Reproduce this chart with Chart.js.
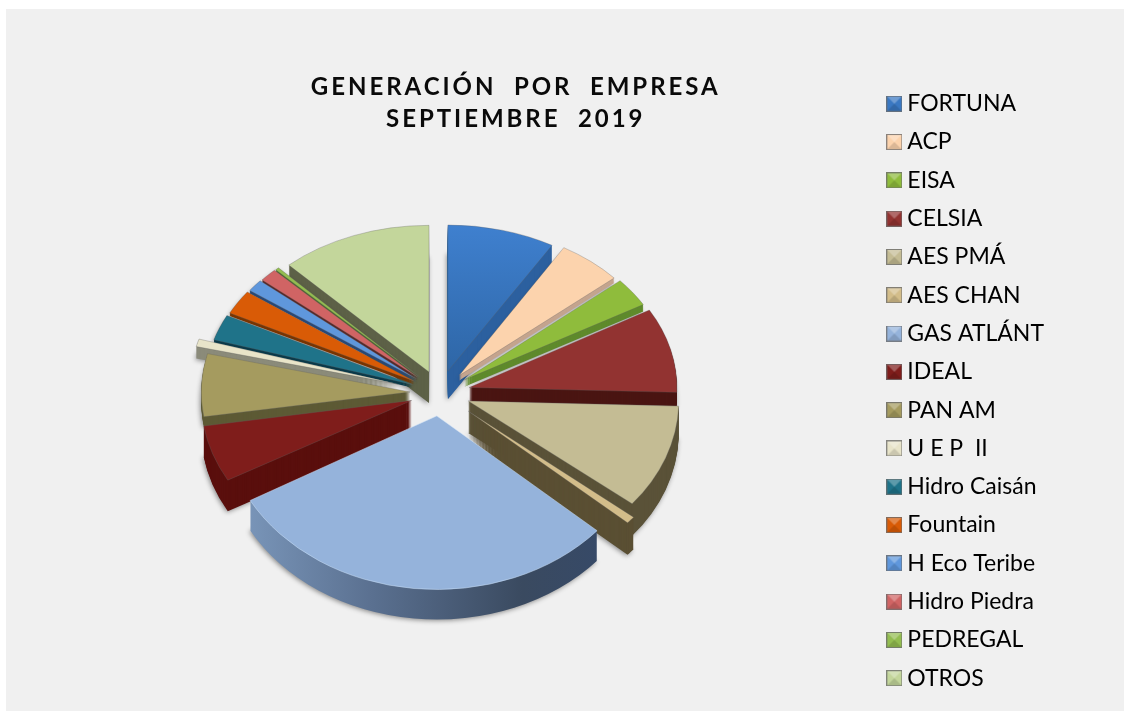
<!DOCTYPE html>
<html><head><meta charset="utf-8">
<style>html,body{margin:0;padding:0;background:#fff;overflow:hidden}
#wrap{position:relative;width:1124px;height:711px}canvas{display:block}</style>
<script src="https://cdn.jsdelivr.net/npm/chart.js@4"></script></head>
<body><div id="wrap"><canvas id="c" width="1124" height="711"></canvas></div>
<script>
const categories=['FORTUNA','ACP','EISA','CELSIA','AES PMÁ','AES CHAN','GAS ATLÁNT','IDEAL','PAN AM','U E P  II','Hidro Caisán','Fountain','H Eco Teribe','Hidro Piedra','PEDREGAL','OTROS'];
const shares=[8.5,5.1,3.1,8.8,10.3,0.7,30.4,5.6,6.4,0.8,2.7,2.6,1.3,1.4,0.3,12.0];
const topColors=['#3a78c2','#fcd3ad','#8fbc3c','#923331','#c4bc94','#d3bd8a','#95b3db','#7f1d1b','#a59b5f','#e8e4c9','#1f7389','#d95b06','#5f97dc','#d06464','#93bd50','#c3d69b'];
const wallColors=['#2c609f','#c4a48e','#5f8a2c','#4a1512','#5a5238','#5a4f33','#3f5273','#5a0f0d','#5d5a35','#8b8b7a','#0a3a4a','#7a3500','#2a4a78','#5a2a2a','#4f6a30','#5d6147'];
const wallDepths=[28,5,7,14,32,32,30,31,10,12,3,3,3,3,2,31];
const sliceExplode=[30,30,30,30,30,37,30,30,30,44,30,30,30,30,30,30];
const titleLines=['GENERACIÓN  POR  EMPRESA','SEPTIEMBRE  2019'];

const VIEW={cx:440,cy:393,radius:209,squash:0.76,persp:0.068};

function legendIcon(color){
  const n=16,c=document.createElement('canvas');c.width=n;c.height=n;
  const x=c.getContext('2d');
  x.fillStyle=color;x.fillRect(0,0,n,n);
  x.fillStyle='rgba(255,255,255,.28)';x.beginPath();x.moveTo(1,1);x.lineTo(15,1);x.lineTo(8,8);x.fill();
  x.fillStyle='rgba(0,0,0,.13)';x.beginPath();x.moveTo(1,15);x.lineTo(15,15);x.lineTo(8,8);x.fill();
  x.strokeStyle='rgba(110,110,110,.8)';x.lineWidth=1;x.strokeRect(.5,.5,n-1,n-1);
  return c;
}
const panel={id:'panel',beforeDraw(ch){
  const x=ch.ctx;x.save();x.fillStyle='#f0f0f0';x.fillRect(6,9,1118,702);x.restore();
  const t=ch.titleBlock;
  if(t&&!t._spaced){t._spaced=true;const d=t.draw;t.draw=function(){x.letterSpacing='2.95px';d.call(t);x.letterSpacing='0px';};}
}};
const pie3d={id:'pie3d',beforeDatasetsDraw(ch){
  const x=ch.ctx,meta=ch.getDatasetMeta(0),V=VIEW;
  const order=meta.data.map((el,i)=>({el,i,m:(el.startAngle+el.endAngle)/2})).sort((a,b)=>Math.sin(a.m)-Math.sin(b.m));
  const p=Y=>1/(1-V.persp*Y);
  for(const {el,i,m} of order){
    const ux=Math.cos(m),uy=Math.sin(m),E=sliceExplode[i],e=E/V.radius,ay=e*uy;
    const ax=V.cx+E*ux*Math.sqrt(p(ay));
    const ayS=V.cy+V.radius*V.squash*ay*p(ay);
    const pa=p(ay+0.5*uy),sx=Math.sqrt(pa),sy=V.squash*pa*pa;
    const orig=el.options;
    const paint=(dy,bg,bw,shadow,bc)=>{
      x.save();
      if(shadow){x.shadowColor='rgba(0,0,0,.45)';x.shadowBlur=5;x.shadowOffsetX=-1;x.shadowOffsetY=1;}
      x.translate(ax,ayS+dy);x.scale(sx,sy);x.translate(-el.x,-el.y);
      el.options=Object.assign({},orig,{backgroundColor:bg,borderWidth:bw},bc?{borderColor:bc}:{});
      el.draw(x);x.restore();
    };
    let wall=wallColors[i],edge=null;
    if(categories[i]==='GAS ATLÁNT'){
      const g=x.createLinearGradient(el.x-V.radius,0,el.x+V.radius,0);
      g.addColorStop(0,'#7f9cc0');g.addColorStop(.35,'#5a7090');g.addColorStop(.7,'#3a4a60');g.addColorStop(1,'#34496c');wall=g;
      edge='rgba(200,222,245,.7)';
    }
    const d=wallDepths[i];
    paint(d,wall,0,true);
    for(let k=d-1;k>0;k--)paint(k,wall,0,false);
    let top=topColors[i];
    if(categories[i]==='FORTUNA'){
      const g=x.createLinearGradient(0,el.y-V.radius,0,el.y);
      g.addColorStop(0,'#3f80cf');g.addColorStop(1,'#2e66a6');top=g;
    }
    paint(0,top,0.8,false,edge);
    el.options=orig;
  }
  return false;
}};
new Chart(document.getElementById('c'),{
  type:'pie',
  data:{labels:categories,datasets:[{data:shares,backgroundColor:topColors,borderColor:'rgba(95,95,95,.45)',borderWidth:0.8,radius:VIEW.radius}]},
  plugins:[panel,pie3d],
  options:{
    responsive:false,animation:false,
    layout:{padding:{left:154,right:70,top:71,bottom:0}},
    plugins:{
      tooltip:{enabled:false},
      title:{display:true,text:titleLines,fullSize:false,color:'#0a0a0a',font:{family:'Lato',size:24,weight:'bold',lineHeight:1.34},padding:{top:0,bottom:10}},
      legend:{position:'right',align:'center',fullSize:true,
        labels:{usePointStyle:true,pointStyleWidth:3,padding:15.3,color:'#0a0a0a',font:{family:'Lato',size:23,lineHeight:1},
          generateLabels:ch=>categories.map((t,i)=>({text:t,fillStyle:topColors[i],strokeStyle:topColors[i],lineWidth:0,pointStyle:legendIcon(topColors[i]),hidden:false,index:i}))}}
    }
  }
});
</script></body></html>
